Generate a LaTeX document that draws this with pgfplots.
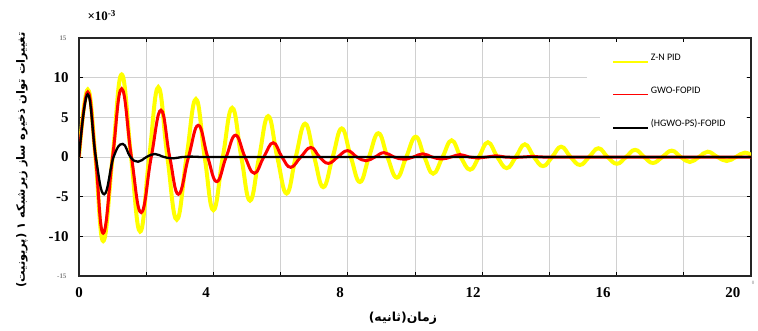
\documentclass[border=0pt]{standalone}
\usepackage{pgfplots}
\pgfplotsset{compat=1.18}
\usepackage{fontspec}
\setmainfont{Liberation Serif}
\newfontfamily\arabicfont[Script=Arabic]{DejaVu Sans}
\newfontfamily\legfont{Carlito}
\TeXXeTstate=1
\definecolor{gridgray}{RGB}{208,208,208}
\definecolor{ylw}{RGB}{255,255,0}
\definecolor{rd}{RGB}{255,0,0}
\begin{document}
\begin{tikzpicture}
\begin{axis}[
  set layers,
  clip mode=individual,
  scale only axis,
  width=672bp, height=238bp,
  xmin=0, xmax=20, ymin=-15, ymax=15,
  xtick={0,3.78,7.77,11.73,15.6,19.46},
  xticklabels={0,4,8,12,16,20},
  major x tick style={draw=none},
  minor xtick={2,4,...,20},
  xminorgrids,
  minor x grid style={gridgray, line width=1bp},
  ytick={-10,-5,0,5,10},
  ymajorgrids,
  major y grid style={gridgray, line width=1bp},
  extra y ticks={-15,15},
  extra y tick style={grid=none, yticklabel style={font=\fontsize{7}{8}\selectfont\bfseries, text=gray, xshift=-2bp}},
  tick align=inside,
  major tick length=4bp, minor tick length=4bp,
  tick style={black, line width=0.8bp},
  axis line style={line width=1.3bp, black!85},
  tick label style={font=\fontsize{15}{17}\selectfont\bfseries},
  yticklabel style={xshift=-7bp},
  xticklabel style={yshift=-8bp},
  xticklabel pos=bottom, yticklabel pos=left,
  /pgf/number format/assume math mode=true,
  xlabel={\arabicfont\bfseries\beginR زمان(ثانیه)\endR},
  xlabel style={font=\fontsize{12.5}{15}\selectfont, at={(axis description cs:0.482,-0.178)}, anchor=center},
  ylabel={\arabicfont\bfseries\beginR تغییرات توان ذخیره ساز زیرشبکه ۱ (پریونیت)\endR},
  ylabel style={font=\fontsize{11.5}{14}\selectfont, at={(axis description cs:-0.085,0.487)}, anchor=center},
  legend style={draw=none, fill=none, at={(axis cs:15.86,13.3)}, anchor=north west,
    font=\legfont\fontsize{10}{12}\selectfont, row sep=21bp, inner sep=0pt,
    /tikz/every even column/.append style={column sep=0bp}},
  legend cell align=left,
  legend image code/.code={\draw[#1, line width=1.8bp] (0bp,-4bp) -- (35bp,-4bp);},
]
\begin{pgfonlayer}{axis grid}
\fill[white] (axis cs:15.12,7.5) rectangle (axis cs:19.86,14.75);
\fill[white] (axis cs:15.5,2.2) rectangle (axis cs:19.86,7.6);
\end{pgfonlayer}
\addplot[ylw, line width=4bp, smooth, tension=0.75] coordinates {
(0,0) (0.26,8.5) (0.49,0) (0.72,-10.6) (1.0,0) (1.27,10.4) (1.55,0) (1.82,-9.4) (2.09,0) (2.36,8.8) (2.63,0) (2.91,-7.9) (3.2,0) (3.48,7.3) (3.74,0) (4.0,-6.7) (4.28,0) (4.56,6.2) (4.83,0) (5.09,-5.5) (5.36,0) (5.63,5.15) (5.9,0) (6.18,-4.6) (6.45,0) (6.73,4.2) (7.0,0) (7.27,-3.8) (7.55,0) (7.82,3.6) (8.09,0) (8.36,-3.15) (8.63,0) (8.91,3.0) (9.18,0) (9.46,-2.6) (9.74,0) (10.02,2.55) (10.28,0) (10.54,-2.1) (10.82,0) (11.09,2.1) (11.36,0) (11.64,-1.6) (11.9,0) (12.17,1.85) (12.45,0) (12.73,-1.4) (13.0,0) (13.27,1.6) (13.54,0) (13.81,-1.15) (14.08,0) (14.35,1.3) (14.63,0) (14.91,-1.0) (15.18,0) (15.46,1.1) (15.73,0) (16.01,-0.85) (16.28,0) (16.55,0.9) (16.82,0) (17.08,-0.75) (17.36,0) (17.64,0.8) (17.91,0) (18.18,-0.63) (18.45,0) (18.71,0.67) (19.0,0) (19.28,-0.5) (19.55,0) (19.82,0.55) (20.1,0)
};
\addlegendentry{Z-N PID}
\addplot[rd, line width=3bp, smooth, tension=0.75] coordinates {
(0,0) (0.26,8.2) (0.49,0) (0.72,-9.6) (1.0,0) (1.27,8.6) (1.56,0) (1.85,-7.0) (2.15,0) (2.44,5.9) (2.7,0) (2.96,-4.7) (3.26,0) (3.55,4.0) (3.83,0) (4.1,-3.1) (4.38,0) (4.66,2.75) (4.94,0) (5.22,-2.05) (5.5,0) (5.78,1.8) (6.04,0) (6.3,-1.3) (6.6,0) (6.9,1.2) (7.16,0) (7.42,-0.8) (7.7,0) (7.99,0.8) (8.27,0) (8.54,-0.47) (8.81,0) (9.08,0.55) (9.38,0) (9.67,-0.28) (9.95,0) (10.23,0.4) (10.51,0) (10.79,-0.25) (11.07,0) (11.34,0.3) (11.61,0) (11.88,-0.13) (12.14,0) (12.4,0.15) (12.68,0) (12.95,-0.06) (13.22,0) (13.5,0.08) (13.8,0) (14.5,0) (15.5,0) (16.5,0) (17.5,0) (18.5,0) (19.5,0) (20.1,0)
};
\addlegendentry{GWO-FOPID}
\addplot[black, line width=2.3bp, smooth, tension=0.75] coordinates {
(0,0) (0.26,7.9) (0.5,0) (0.75,-4.7) (1.03,0) (1.3,1.65) (1.53,0) (1.76,-0.6) (2.01,0) (2.26,0.38) (2.53,0) (2.81,-0.17) (3.08,0) (3.35,0.05) (3.7,0) (4.5,0) (6,0) (8,0) (10,0) (12,0) (14,0) (16,0) (18,0) (20.1,0)
};
\addlegendentry{(HGWO-PS)-FOPID}
\node[font=\fontsize{13}{14}\selectfont\bfseries, anchor=west] at (rel axis cs:0,1) [xshift=5bp, yshift=22.5bp] {×10\textsuperscript{-3}};
\node[font=\fontsize{5}{6}\selectfont, text=gray] at (rel axis cs:1,0) [xshift=2bp, yshift=-7bp] {0};
\coordinate (bbsw) at (rel axis cs:0,0);
\coordinate (bbne) at (rel axis cs:1,1);
\end{axis}
\pgfresetboundingbox
\path ([shift={(-79bp,-55bp)}]bbsw) rectangle ([shift={(7bp,38bp)}]bbne);
\end{tikzpicture}
\end{document}
